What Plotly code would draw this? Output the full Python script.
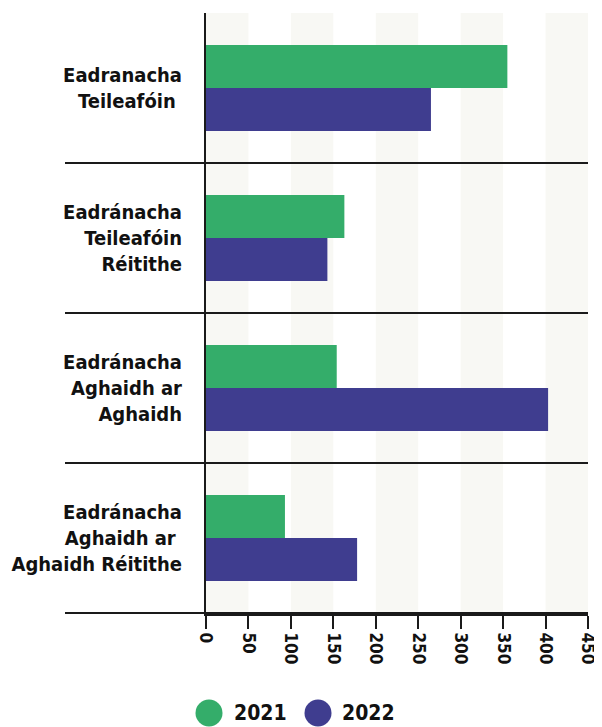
import plotly.graph_objects as go

categories = [
    "Eadranacha<br>Teileafóin\u00a0",
    "Eadránacha<br>Teileafóin<br>Réitithe",
    "Eadránacha<br>Aghaidh ar<br>Aghaidh",
    "Eadránacha<br>Aghaidh ar\u00a0<br>Aghaidh Réitithe",
]
series_names = ["2021", "2022"]
values_2021 = [355, 163, 154, 93]
values_2022 = [265, 143, 403, 178]
tick_values = [0, 50, 100, 150, 200, 250, 300, 350, 400, 450]

GREEN = "#34ad6a"
BLUE = "#3f3d8f"
BAND = "#f8f8f4"
FONT = "Liberation Sans Narrow, DejaVu Sans Condensed, Arial Narrow, sans-serif"

# the page body has an 8px default margin; lay out in page pixels then offset
OFF = 8
FIG_W, FIG_H = 602 - OFF, 727 - OFF
L, T, W, H = 206 - OFF, 13 - OFF, 382, 601

fig = go.Figure()
fig.add_trace(go.Bar(y=categories, x=values_2021, name=series_names[0], orientation="h",
                     marker=dict(color=GREEN, line=dict(width=0)), showlegend=False))
fig.add_trace(go.Bar(y=categories, x=values_2022, name=series_names[1], orientation="h",
                     marker=dict(color=BLUE, line=dict(width=0)), showlegend=False))

shapes = []
# alternating background bands
for i in range(0, len(tick_values) - 1, 2):
    shapes.append(dict(type="rect", xref="x", yref="paper", x0=tick_values[i], x1=tick_values[i + 1],
                       y0=0, y1=1, fillcolor=BAND, line=dict(width=0), layer="below"))
# category separators extending into label area
for k in range(len(categories)):
    shapes.append(dict(type="line", xref="paper", yref="y", x0=(65 - OFF - L) / W, x1=1.0,
                       y0=k + 0.5, y1=k + 0.5, line=dict(color="#1a1a1a", width=2), layer="above"))

def px_to_paper(px, py):
    # px, py in page pixels
    return (px - OFF - L) / W, (T + H - (py - OFF)) / H

legend_items = [(series_names[0], GREEN, 209, 232), (series_names[1], BLUE, 318, 340)]
annotations = []
for name, col, cx, tx in legend_items:
    x0, y0 = px_to_paper(cx - 13.5, 713 + 13.5)
    x1, y1 = px_to_paper(cx + 13.5, 713 - 13.5)
    shapes.append(dict(type="circle", xref="paper", yref="paper", x0=x0, x1=x1, y0=y0, y1=y1,
                       fillcolor=col, line=dict(width=0)))
    ax, ay = px_to_paper(tx, 713)
    annotations.append(dict(text="<b>%s</b>" % name, xref="paper", yref="paper", x=ax, y=ay,
                            xanchor="left", yanchor="middle", showarrow=False,
                            font=dict(family=FONT, size=21, color="#111111")))

fig.update_layout(
    width=FIG_W, height=FIG_H,
    margin=dict(l=L, r=FIG_W - L - W, t=T, b=FIG_H - T - H, autoexpand=False),
    paper_bgcolor="white", plot_bgcolor="white",
    barmode="group", bargap=0.427, bargroupgap=0,
    shapes=shapes, annotations=annotations,
    showlegend=False,
    font=dict(family=FONT, color="#111111"),
)
fig.update_xaxes(range=[0, 450], tickvals=tick_values, ticktext=["<b>%d</b>" % v for v in tick_values],
                 tickangle=90, showgrid=False, zeroline=False, showline=True, linecolor="#1a1a1a",
                 linewidth=2, ticks="outside", ticklen=13, tickwidth=2, tickcolor="#1a1a1a",
                 tickfont=dict(family=FONT, size=17, color="#111111"), fixedrange=True,
                 automargin=False)
fig.update_yaxes(autorange="reversed", showgrid=False, zeroline=False, showline=True,
                 linecolor="#1a1a1a", linewidth=2, ticks="", ticklabelstandoff=18,
                 tickvals=categories, ticktext=["<b>%s</b>" % c for c in categories],
                 tickfont=dict(family=FONT, size=20, color="#111111"), fixedrange=True,
                 automargin=False)

fig.write_html("out.html")
